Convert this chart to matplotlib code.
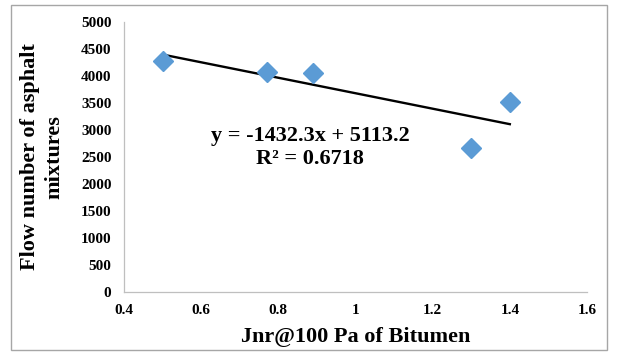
import matplotlib
matplotlib.use("Agg")
import matplotlib.pyplot as plt
from matplotlib.patches import Rectangle
import numpy as np

jnr = [0.5, 0.77, 0.89, 1.3, 1.4]
flow_number = [4280, 4070, 4050, 2670, 3510]
slope = -1432.3
intercept = 5113.2
r2 = 0.6718
x_ticks = [0.4, 0.6, 0.8, 1.0, 1.2, 1.4, 1.6]
x_tick_labels = ["0.4", "0.6", "0.8", "1", "1.2", "1.4", "1.6"]
y_ticks = [0, 500, 1000, 1500, 2000, 2500, 3000, 3500, 4000, 4500, 5000]

plt.rcParams['font.family'] = ['Liberation Serif', 'DejaVu Serif']
plt.rcParams['font.weight'] = 'bold'

fig = plt.figure(figsize=(6.17, 3.52), dpi=100)
W, H = 617, 352
ax = fig.add_axes([124 / W, 1 - 292 / H, (587 - 124) / W, (292 - 22) / H])

ax.plot(jnr, flow_number, linestyle='none', marker='D', markersize=10.5,
        color='#5B9BD5', zorder=3)
xs = np.array([min(jnr), max(jnr)])
ax.plot(xs, slope * xs + intercept, color='black', linewidth=1.7, zorder=2)

ax.set_xlim(0.4, 1.6)
ax.set_ylim(0, 5000)
ax.set_xticks(x_ticks)
ax.set_xticklabels(x_tick_labels)
ax.set_yticks(y_ticks)
ax.tick_params(length=0, labelsize=11, pad=9)
for lbl in ax.get_xticklabels() + ax.get_yticklabels():
    lbl.set_fontweight('bold')
for s in ['top', 'right']:
    ax.spines[s].set_visible(False)
for s in ['left', 'bottom']:
    ax.spines[s].set_color('#BFBFBF')
    ax.spines[s].set_linewidth(0.9)

ax.set_xlabel('Jnr@100 Pa of Bitumen', fontsize=16, fontweight='bold', labelpad=7)
ax.set_ylabel('Flow number of asphalt\nmixtures', fontsize=16, fontweight='bold',
              labelpad=12, linespacing=1.3)

ax.text(0.882, 2889, f'y = {slope}x + {intercept}', fontsize=16, fontweight='bold',
        ha='center', va='center')
ax.text(0.882, 2470, f'R² = {r2}', fontsize=16, fontweight='bold',
        ha='center', va='center')

fig.patches.append(Rectangle((11 / W, 1 - 350 / H), (607 - 11) / W, (350 - 5) / H,
                             transform=fig.transFigure, fill=False,
                             edgecolor='#A6A6A6', linewidth=1.0))

fig.savefig('out.png', dpi=100)
